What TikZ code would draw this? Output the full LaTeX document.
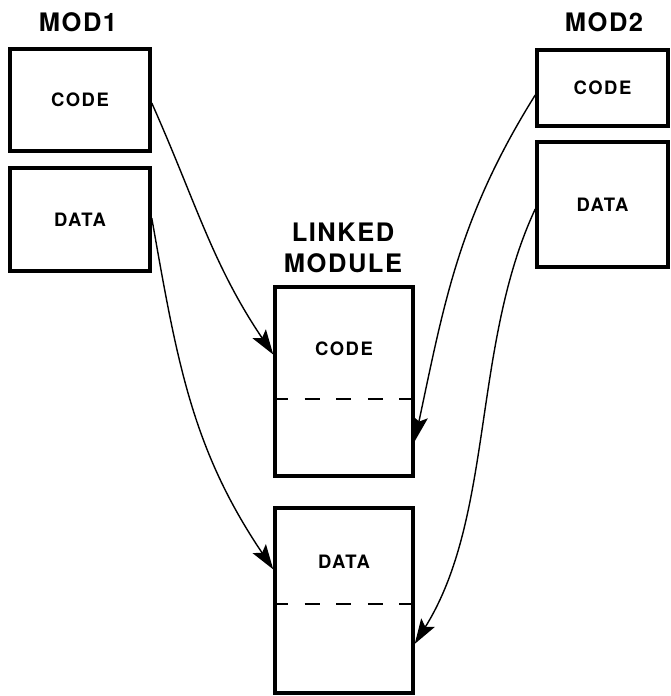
\documentclass[tikz,border=0pt]{standalone}
\usepackage{fontspec}
\setsansfont{TeX Gyre Heros}
\newfontfamily\headfont[LetterSpace=6]{TeX Gyre Heros}
\newfontfamily\boxfont[LetterSpace=8]{TeX Gyre Heros}
\usepackage{tikz}
\usetikzlibrary{positioning}
\usetikzlibrary{shapes,arrows,calc,arrows.meta}

\begin{document}
\begin{tikzpicture}[node distance=2cm, auto,
    box/.style={draw, rectangle, line width=2pt, inner sep=0pt},
    head/.style={font=\headfont\bfseries\fontsize{14.5}{17.5}\selectfont, align=center},
    word/.style={font=\boxfont\bfseries\fontsize{10.5}{12}\selectfont},
    link/.style={-{Stealth[length=5mm, width=3.2mm, inset=1mm]}, line width=0.8pt},
    split/.style={dashed, dash pattern=on 0.3cm off 0.33cm, line width=1pt}]
    \useasboundingbox (0,0) rectangle (13.4,-13.92);
    % Nodes
    \node [box, minimum width=2.8cm, minimum height=2.04cm] (m1code) at (1.6,-2.0) {};
    \node [box, minimum width=2.8cm, minimum height=2.06cm] (m1data) at (1.6,-4.39) {};
    \node [box, minimum width=2.62cm, minimum height=1.52cm] (m2code) at (12.05,-1.76) {};
    \node [box, minimum width=2.62cm, minimum height=2.5cm] (m2data) at (12.05,-4.09) {};
    \node [box, minimum width=2.76cm, minimum height=3.78cm] (lcode) at (6.88,-7.63) {};
    \node [box, minimum width=2.76cm, minimum height=3.70cm] (ldata) at (6.88,-12.01) {};

    \node [head] (mod1) at (1.56,-0.44) {MOD1};
    \node [head] (mod2) at (12.08,-0.44) {MOD2};
    \node [head] (linked) at (6.86,-4.96) {LINKED\\MODULE};

    \node [word] (t1) at (m1code) {CODE};
    \node [word] (t2) at (m1data) {DATA};
    \node [word] (t3) at (m2code) {CODE};
    \node [word] (t4) at (m2data) {DATA};
    \node [word] (t5) at (6.88,-6.98) {CODE};
    \node [word] (t6) at (6.88,-11.24) {DATA};

    % Split lines
    \coordinate (csplit) at (6.88,-7.98);
    \coordinate (dsplit) at (6.88,-12.08);
    \draw [split] (lcode.west |- csplit) -- (lcode.east |- csplit);
    \draw [split] (ldata.west |- dsplit) -- (ldata.east |- dsplit);

    % Arrow ends
    \coordinate (c1) at ($(lcode.north west)!0.36!(lcode.south west)$);
    \coordinate (c2) at ($(lcode.north east)!0.81!(lcode.south east)$);
    \coordinate (d1) at ($(ldata.north west)!0.335!(ldata.south west)$);
    \coordinate (d2) at ($(ldata.north east)!0.73!(ldata.south east)$);

    % Arrows
    \draw [link] ([yshift=-0.06cm]m1code.east) to[out=-66, in=124] (c1);
    \draw [link] ([yshift=0.03cm]m1data.east) to[out=-80, in=124] (d1);
    \draw [link] ([yshift=-0.14cm]m2code.west) to[out=-122, in=78] (c2);
    \draw [link] ([yshift=-0.09cm]m2data.west) to[out=-115, in=58, looseness=0.85] (d2);
\end{tikzpicture}
\end{document}
